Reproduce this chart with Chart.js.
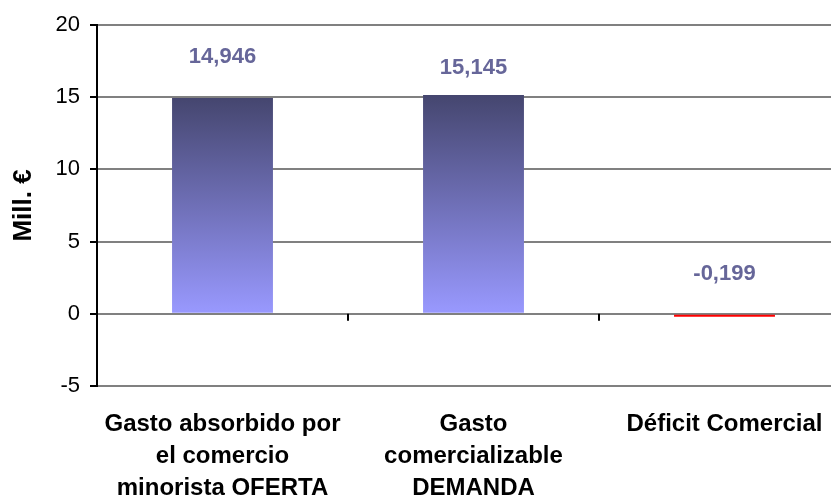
<!DOCTYPE html>
<html>
<head>
<meta charset="utf-8">
<script src="https://cdn.jsdelivr.net/npm/chart.js@4/dist/chart.umd.min.js"></script>
<style>
  html, body { margin: 0; padding: 0; background: #fff; overflow: hidden; width: 831px; height: 499px; }
  #chart { display: block; }
</style>
</head>
<body>
<canvas id="chart" width="860" height="499"></canvas>
<script>
// --- DATA ---
const categories = [
  ["Gasto absorbido por", "el comercio", "minorista OFERTA"],
  ["Gasto", "comercializable", "DEMANDA"],
  ["Déficit Comercial"]
];
const values = [14.946, 15.145, -0.199];
const yTicks = [-5, 0, 5, 10, 15, 20];

// --- STYLE ---
const FONT = "'Liberation Sans', Arial, sans-serif";
const labelOffsets = [41, 27, 41]; // px above bar top, as placed in the original
const gradTop = "#45466f";
const gradBottom = "#9999ff";
const negColor = "#ff0000";

function barFill(ctx) {
  const chart = ctx.chart;
  if (!chart.chartArea) return gradBottom;
  const v = ctx.raw;
  if (v < 0) return negColor;
  const y = chart.scales.y;
  const top = y.getPixelForValue(v);
  const base = y.getPixelForValue(0);
  const g = chart.ctx.createLinearGradient(0, top, 0, base);
  g.addColorStop(0, gradTop);
  g.addColorStop(1, gradBottom);
  return g;
}

// value labels above bars
const valueLabels = {
  id: "valueLabels",
  afterDatasetsDraw(chart) {
    const c = chart.ctx;
    const meta = chart.getDatasetMeta(0);
    c.save();
    c.font = "bold 22px " + FONT;
    c.fillStyle = "#666699";
    c.textAlign = "center";
    c.textBaseline = "middle";
    meta.data.forEach((bar, i) => {
      const top = Math.min(bar.y, bar.base);
      const txt = values[i].toFixed(3).replace(".", ",");
      c.fillText(txt, bar.x, top - labelOffsets[i]);
    });
    c.restore();
  }
};

// category tick marks on the zero line
const zeroTicks = {
  id: "zeroTicks",
  afterDraw(chart) {
    const c = chart.ctx;
    const x = chart.scales.x;
    const y0 = chart.scales.y.getPixelForValue(0);
    c.save();
    c.strokeStyle = "#000";
    c.lineWidth = 2;
    for (let i = 1; i < categories.length; i++) {
      const px = Math.round(x.getPixelForValue(i - 0.5));
      c.beginPath();
      c.moveTo(px, y0);
      c.lineTo(px, y0 + 7);
      c.stroke();
    }
    c.restore();
  }
};

new Chart(document.getElementById("chart"), {
  type: "bar",
  data: {
    labels: categories,
    datasets: [{
      data: values,
      backgroundColor: barFill,
      borderWidth: 0,
      categoryPercentage: 1,
      barPercentage: 0.402
    }]
  },
  options: {
    responsive: false,
    animation: false,
    layout: { padding: { top: 25, right: 10, left: 0, bottom: 0 } },
    plugins: {
      legend: { display: false },
      tooltip: { enabled: false }
    },
    scales: {
      x: {
        grid: { display: false },
        border: { display: false },
        ticks: {
          color: "#000",
          font: { family: FONT, size: 24, weight: "bold", lineHeight: "32px" },
          padding: 14,
          maxRotation: 0,
          autoSkip: false
        },
        afterFit(scale) { scale.height = 113; }
      },
      y: {
        min: -5,
        max: 20,
        afterBuildTicks(scale) { scale.ticks = yTicks.map(v => ({ value: v })); },
        grid: {
          color: "#808080",
          lineWidth: 2,
          tickColor: "#000",
          tickLength: 7
        },
        border: { display: true, color: "#000", width: 2 },
        ticks: {
          color: "#000",
          font: { family: FONT, size: 22 },
          padding: 10
        },
        title: {
          display: true,
          text: "Mill. €",
          color: "#000",
          font: { family: FONT, size: 26, weight: "bold" },
          padding: { top: 8, bottom: 0 }
        },
        afterFit(scale) { scale.width = 97; }
      }
    }
  },
  plugins: [valueLabels, zeroTicks]
});
</script>
</body>
</html>
